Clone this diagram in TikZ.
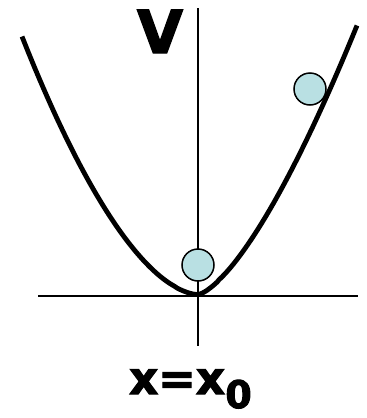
\documentclass[tikz,border=0pt]{standalone}
\usepackage{fontspec}
\setmainfont{DejaVu Sans}
\newfontfamily\heavy[FakeBold=2.5]{DejaVu Sans Bold}
\begin{document}
\begin{tikzpicture}[x=1pt,y=-1pt,
  axis/.style={line width=2pt,black},
  curve/.style={line width=4.8pt,black,line cap=butt,line join=round},
  ball/.style={circle,draw=black,line width=1.5pt,fill=ballblue,minimum size=32pt,inner sep=0pt},
  lbl/.style={inner sep=0pt,text=black}
]
\definecolor{ballblue}{HTML}{B9E0E3}
\useasboundingbox (0,0) rectangle (367,418);
% axes
\coordinate (ytop) at (198,8);
\coordinate (ybot) at (198,346);
\coordinate (xl) at (38,296);
\coordinate (xr) at (358,296);
\draw[axis] (ytop) -- (ybot);
\draw[axis] (xl) -- (xr);
% potential curve
\draw[curve] plot[domain=22:197.9,samples=100] (\x,{294.5-258*(max((198-\x)/176,0.0001))^1.726})
  -- plot[domain=198.1:357,samples=100] (\x,{294.5-269*(max((\x-198)/159,0.0001))^1.45});
% balls
\node[ball] (b1) at (198,265) {};
\node[ball] (b2) at (310,89) {};
% labels
\node[lbl,anchor=base,font=\heavy\fontsize{59}{59}\selectfont] (V) at (160,53) {V};
\node[lbl,anchor=base west,font=\heavy\fontsize{45}{45}\selectfont] (x) at (129,394) {x=x};
\node[lbl,anchor=base west,font=\heavy\fontsize{38}{38}\selectfont] (sub) at (x.base east) [yshift=-14pt] {0};
\end{tikzpicture}
\end{document}
